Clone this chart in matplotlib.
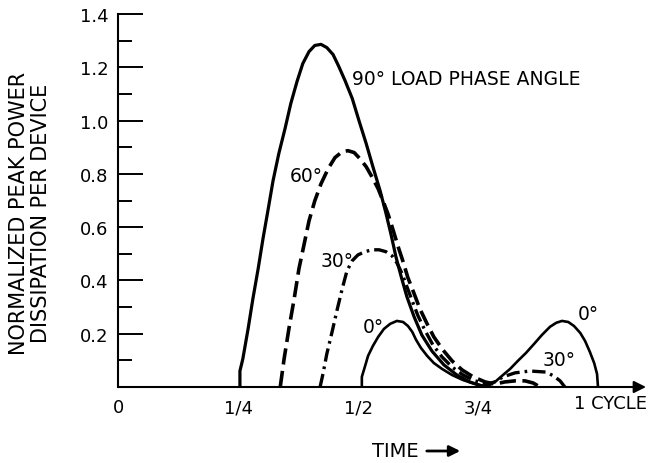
import matplotlib
matplotlib.use("Agg")
import matplotlib.pyplot as plt
from matplotlib.patches import FancyArrowPatch
from matplotlib.ticker import FixedLocator

plt.rcParams["font.family"] = ["DejaVu Sans"]

# time in cycles / normalized peak power per device
t_90 = [0.254, 0.254, 0.260, 0.271, 0.281, 0.292, 0.302, 0.313, 0.323, 0.335, 0.348,
        0.360, 0.373, 0.385, 0.398, 0.410, 0.423, 0.435, 0.448, 0.460, 0.473, 0.488,
        0.502, 0.517, 0.531, 0.546, 0.558, 0.569, 0.579, 0.590, 0.602, 0.617, 0.633,
        0.654, 0.679, 0.706, 0.733, 0.758, 0.771]
p_90 = [0.0, 0.060, 0.105, 0.218, 0.331, 0.444, 0.556, 0.669, 0.774, 0.876, 0.970,
        1.064, 1.147, 1.214, 1.259, 1.282, 1.286, 1.274, 1.248, 1.203, 1.150, 1.083,
        1.000, 0.914, 0.827, 0.737, 0.654, 0.571, 0.489, 0.414, 0.338, 0.263, 0.195,
        0.135, 0.083, 0.045, 0.019, 0.004, 0.0]

t_60 = [0.338, 0.346, 0.356, 0.367, 0.377, 0.388, 0.398, 0.410, 0.423, 0.438, 0.452,
        0.467, 0.479, 0.492, 0.504, 0.517, 0.529, 0.542, 0.552, 0.563, 0.573, 0.583,
        0.594, 0.604, 0.617, 0.629, 0.644, 0.658, 0.677, 0.696, 0.717, 0.740, 0.765,
        0.785, 0.806, 0.827, 0.848, 0.865, 0.879]
p_60 = [0.0, 0.105, 0.218, 0.331, 0.444, 0.538, 0.624, 0.699, 0.763, 0.820, 0.861,
        0.883, 0.887, 0.880, 0.857, 0.827, 0.789, 0.744, 0.699, 0.647, 0.590, 0.530,
        0.470, 0.410, 0.350, 0.293, 0.237, 0.188, 0.139, 0.098, 0.064, 0.038, 0.019,
        0.011, 0.019, 0.023, 0.023, 0.015, 0.0]

t_30 = [0.421, 0.427, 0.435, 0.446, 0.456, 0.467, 0.477, 0.488, 0.500, 0.515, 0.529,
        0.544, 0.558, 0.571, 0.581, 0.592, 0.602, 0.613, 0.625, 0.640, 0.656, 0.675,
        0.696, 0.719, 0.744, 0.769, 0.785, 0.802, 0.827, 0.858, 0.892, 0.908, 0.921, 0.931]
p_30 = [0.0, 0.049, 0.124, 0.207, 0.286, 0.368, 0.436, 0.474, 0.496, 0.508, 0.515,
        0.515, 0.508, 0.492, 0.466, 0.425, 0.376, 0.323, 0.267, 0.211, 0.158, 0.113,
        0.075, 0.045, 0.023, 0.011, 0.019, 0.038, 0.053, 0.060, 0.056, 0.041, 0.023, 0.0]

t_0 = [0.508, 0.508, 0.513, 0.521, 0.531, 0.542, 0.554, 0.567, 0.581, 0.594, 0.604,
       0.613, 0.621, 0.631, 0.644, 0.658, 0.675, 0.696, 0.719, 0.744, 0.763, 0.775,
       0.788, 0.802, 0.817, 0.833, 0.850, 0.867, 0.883, 0.900, 0.913, 0.925, 0.938,
       0.950, 0.963, 0.973, 0.983, 0.992, 0.998, 1.000]
p_0 = [0.0, 0.038, 0.068, 0.117, 0.154, 0.188, 0.218, 0.237, 0.248, 0.244, 0.229,
       0.207, 0.177, 0.147, 0.117, 0.090, 0.068, 0.045, 0.026, 0.011, 0.004, 0.008,
       0.023, 0.045, 0.068, 0.098, 0.128, 0.162, 0.195, 0.226, 0.241, 0.248, 0.244,
       0.229, 0.203, 0.173, 0.132, 0.090, 0.049, 0.0]

y_major = [0.2, 0.4, 0.6, 0.8, 1.0, 1.2, 1.4]
y_minor = [0.1, 0.3, 0.5, 0.7, 0.9, 1.1, 1.3]
x_ticks = [0, 0.25, 0.5, 0.75]
x_labels = ["0", "1/4", "1/2", "3/4"]

W, H = 650, 464
fig = plt.figure(figsize=(W / 100, H / 100), dpi=100)
ax = fig.add_axes([118 / W, 76 / H, 528 / W, 373 / H])
ax.set_xlim(0, 1.1)
ax.set_ylim(0, 1.4)

ax.plot(t_90, p_90, color="black", lw=2.3, solid_joinstyle="round")
ax.plot(t_60, p_60, color="black", lw=2.6, linestyle=(0, (4.5, 1.8)))
ax.plot(t_30, p_30, color="black", lw=2.4, linestyle=(0, (4.0, 1.5, 0.8, 1.5)))
ax.plot(t_0, p_0, color="black", lw=1.9, solid_joinstyle="round")

# axes
for s in ["top", "right", "bottom"]:
    ax.spines[s].set_visible(False)
ax.spines["left"].set_linewidth(1.5)
ax.spines["left"].set_bounds(0, 1.4)
ax.annotate("", xy=(1.1, 0), xytext=(0, 0), xycoords="data",
            arrowprops=dict(arrowstyle="-|>", lw=1.5, color="black",
                            mutation_scale=18, shrinkA=0, shrinkB=0),
            annotation_clip=False)

ax.yaxis.set_major_locator(FixedLocator(y_major))
ax.yaxis.set_minor_locator(FixedLocator(y_minor))
ax.set_yticklabels([f"{v:.1f}" for v in y_major])
ax.tick_params(axis="y", which="major", direction="in", length=18, width=1.4,
               pad=7, labelsize=13)
ax.tick_params(axis="y", which="minor", direction="in", length=10, width=1.4)
ax.set_xticks(x_ticks)
ax.set_xticklabels(x_labels)
ax.tick_params(axis="x", length=0, pad=8, labelsize=13)
ax.text(1.027, -0.06, "1 CYCLE", ha="center", va="center", fontsize=13)

# labels on curves
fs = 13.5
ax.text(0.4875, 1.158, "90° LOAD PHASE ANGLE", ha="left", va="center", fontsize=fs)
ax.text(0.358, 0.793, "60°", ha="left", va="center", fontsize=fs)
ax.text(0.421, 0.474, "30°", ha="left", va="center", fontsize=fs)
ax.text(0.510, 0.226, "0°", ha="left", va="center", fontsize=fs)
ax.text(0.958, 0.274, "0°", ha="left", va="center", fontsize=fs)
ax.text(0.885, 0.105, "30°", ha="left", va="center", fontsize=fs)

fig.text(30 / W, 1 - 213 / H, "NORMALIZED PEAK POWER\nDISSIPATION PER DEVICE",
         rotation=90, ha="center", va="center", multialignment="center",
         fontsize=15, linespacing=1.15)

fig.text(372 / W, 1 - 452 / H, "TIME", ha="left", va="center", fontsize=14)
fig.add_artist(FancyArrowPatch(
    (424 / W, 1 - 452 / H), (463 / W, 1 - 452 / H), transform=fig.transFigure,
    arrowstyle="-|>", mutation_scale=16, lw=2.0, color="black"))

fig.savefig("out.png", dpi=100, facecolor="white")
